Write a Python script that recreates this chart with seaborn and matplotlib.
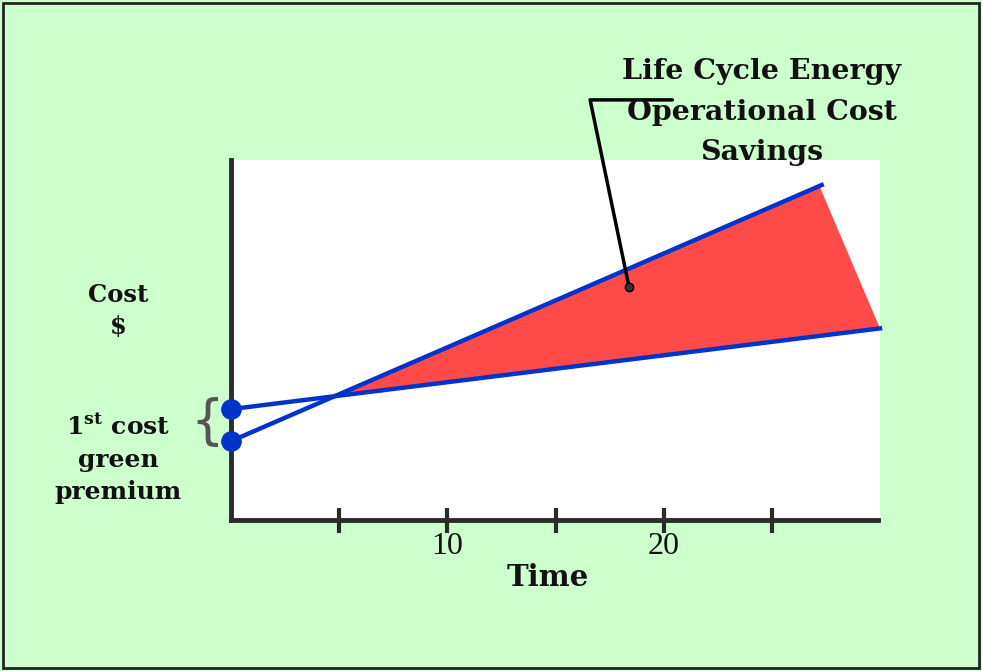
import numpy as np
import pandas as pd
import matplotlib
matplotlib.use("Agg")
import matplotlib.pyplot as plt
import seaborn as sns
from matplotlib.patches import Polygon, Rectangle

# ─────────────────────────────────────────────
# Data (time in years, cost in arbitrary units)
# ─────────────────────────────────────────────
conv_time = [0, 27.4]
conv_cost = [21.9, 93.3]
green_time = [0, 30.1]
green_cost = [30.8, 53.3]
savings_end_time = [27.2, 30.0]   # where the red wedge stops on each line

tick_years = [5, 10, 15, 20, 25]
tick_labels = ["", "10", "", "20", ""]

BG = "#ccffcc"
BLUE = "#0033cc"
RED = "#ff4a4a"
AXIS = "#2b2b2b"

df = pd.DataFrame({
    "time": conv_time + green_time,
    "cost": conv_cost + green_cost,
    "building": ["conventional"] * 2 + ["green"] * 2,
})

sns.set_style("white")
plt.rcParams["mathtext.fontset"] = "dejavuserif"

fig = plt.figure(figsize=(9.82, 6.71), dpi=100, facecolor=BG)
ax = fig.add_axes([231 / 982, 1 - 520 / 671, 649 / 982, 360 / 671])
ax.set_facecolor("white")

# red wedge between the two lines after the break-even point
a1 = np.polyfit(conv_time, conv_cost, 1)
a2 = np.polyfit(green_time, green_cost, 1)
tx = (a2[1] - a1[1]) / (a1[0] - a2[0])
ty = np.polyval(a1, tx)
wedge = [
    (tx, ty),
    (savings_end_time[0], np.polyval(a1, savings_end_time[0])),
    (savings_end_time[1], np.polyval(a2, savings_end_time[1])),
]
ax.add_patch(Polygon(wedge, closed=True, facecolor=RED, edgecolor="none", zorder=2))

sns.lineplot(data=df, x="time", y="cost", hue="building",
             palette=[BLUE, BLUE], linewidth=3.2, legend=False, ax=ax, zorder=3)
for ln in ax.lines:
    ln.set_clip_on(False)
    ln.set_solid_capstyle("butt")

starts = df[df["time"] == 0]
sns.scatterplot(data=starts, x="time", y="cost", color=BLUE, s=190,
                edgecolor=BLUE, legend=False, ax=ax, zorder=5, clip_on=False)

ax.set_xlim(0, 30)
ax.set_ylim(0, 100)

# axes styling
for side in ["top", "right"]:
    ax.spines[side].set_visible(False)
for side in ["left", "bottom"]:
    ax.spines[side].set_color(AXIS)
    ax.spines[side].set_linewidth(3.5)
ax.spines["bottom"].set_bounds(0, 29.9)
ax.set_xticks(tick_years)
ax.set_xticklabels(tick_labels, fontfamily="Liberation Serif", fontsize=23,
                   color="#111111")
ax.tick_params(axis="x", bottom=True, direction="inout", length=18, width=3,
               color=AXIS, pad=0)
ax.set_yticks([])
ax.set_xlabel("")
ax.set_ylabel("")

# callout
ax.plot([20.4, 16.6, 18.4], [116.7, 116.7, 64.7], color="black", lw=2.5,
        clip_on=False, zorder=6)
ax.plot([18.4], [64.7], "o", color="#333333", mec="black", ms=6, zorder=7)
fig.text(762 / 982, 1 - 112 / 671, "Life Cycle Energy\nOperational Cost\nSavings",
         ha="center", va="center", fontsize=20.5, fontweight="bold",
         fontfamily="DejaVu Serif", linespacing=1.62, color="#111111")

# left labels
fig.text(118 / 982, 1 - 311 / 671, "Cost\n$", ha="center", va="center",
         fontsize=17.5, fontweight="bold", fontfamily="DejaVu Serif",
         linespacing=1.4, color="#111111")
fig.text(118 / 982, 1 - 459 / 671, "1$^{\\mathbf{st}}$ cost\ngreen\npremium",
         ha="center", va="center", fontsize=18, fontweight="bold",
         fontfamily="DejaVu Serif", linespacing=1.45, color="#111111")
fig.text(207 / 982, 1 - 423 / 671, "{", ha="center", va="center",
         fontsize=38, fontfamily="DejaVu Sans", color="#555555")

fig.text(548 / 982, 1 - 577 / 671, "Time", ha="center", va="center",
         fontsize=21, fontweight="bold", fontfamily="DejaVu Serif", color="#111111")

# frame around the whole slide
fig.patches.append(Rectangle((0.003, 0.004), 0.994, 0.992, transform=fig.transFigure,
                             fill=False, edgecolor="#222222", lw=2))

fig.savefig("out.png", dpi=100, facecolor=BG)
